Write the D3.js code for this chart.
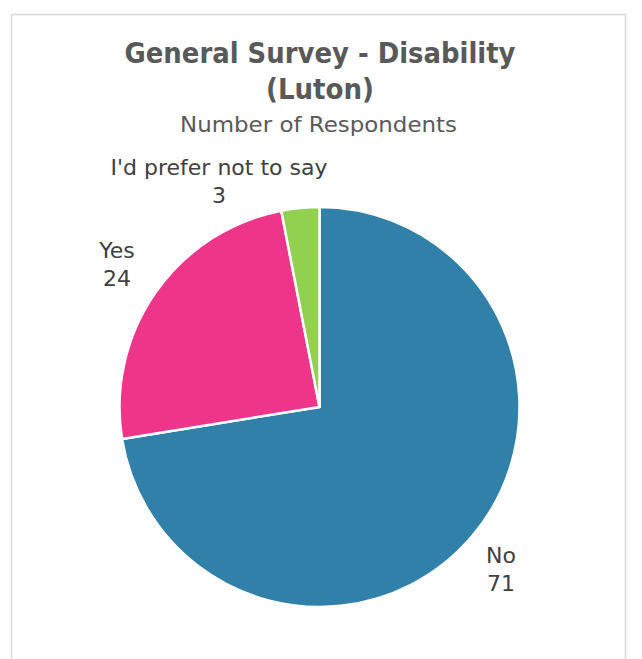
<!DOCTYPE html>
<html><head><meta charset="utf-8">
<script src="https://cdn.jsdelivr.net/npm/d3@7"></script>
<style>body{margin:0;background:#fff}</style>
</head><body>
<script>
const categories = ["No", "Yes", "I'd prefer not to say"];
const values = [71, 24, 3];
const colors = ["#3180a9", "#ee358a", "#92d050"];
const titleLines = ["General Survey - Disability", "(Luton)"];
const subtitle = "Number of Respondents";

const W = 642, H = 659;
const svg = d3.select("body").append("svg").attr("width", W).attr("height", H);
svg.append("rect").attr("x", 11.5).attr("y", 14.5).attr("width", 614).attr("height", 660)
  .attr("fill", "#fff").attr("stroke", "#d9d9d9").attr("stroke-width", 1.5);

const fontC = "'DejaVu Sans Condensed', 'DejaVu Sans', sans-serif";
const font = "'DejaVu Sans', sans-serif";
const tcx = 320;
svg.selectAll("text.title").data(titleLines).join("text")
  .attr("x", tcx).attr("y", (d, i) => 63 + i * 35.5)
  .attr("text-anchor", "middle").attr("font-family", fontC).attr("font-weight", "bold")
  .attr("font-size", 29).attr("fill", "#595959").text(d => d)
  .each(function (d, i) { if (i === 0) d3.select(this).attr("textLength", 391).attr("lengthAdjust", "spacingAndGlyphs"); });
svg.append("text").attr("x", 318.5).attr("y", 132).attr("text-anchor", "middle")
  .attr("font-family", font).attr("font-size", 21).attr("fill", "#595959").text(subtitle)
  .attr("textLength", 277).attr("lengthAdjust", "spacingAndGlyphs");

const cx = 319.5, cy = 407, r = 200;
const data = categories.map((c, i) => ({ c, v: values[i], col: colors[i] }));
const pie = d3.pie().value(d => d.v).sort(null);
const arc = d3.arc().innerRadius(0).outerRadius(r);
const g = svg.append("g").attr("transform", `translate(${cx},${cy})`);
g.selectAll("path").data(pie(data)).join("path")
  .attr("d", arc).attr("fill", d => d.data.col).attr("stroke", "#fff").attr("stroke-width", 2.5)
  .attr("stroke-linejoin", "round");

const labelPos = [[501, 563], [117, 258], [219, 175]];
data.forEach((d, i) => {
  const t = svg.append("text").attr("text-anchor", "middle").attr("font-family", font)
    .attr("font-size", 22).attr("fill", "#404040");
  t.append("tspan").attr("x", labelPos[i][0]).attr("y", labelPos[i][1]).text(d.c);
  t.append("tspan").attr("x", labelPos[i][0]).attr("dy", 28).text(d.v);
});
</script>
</body></html>
